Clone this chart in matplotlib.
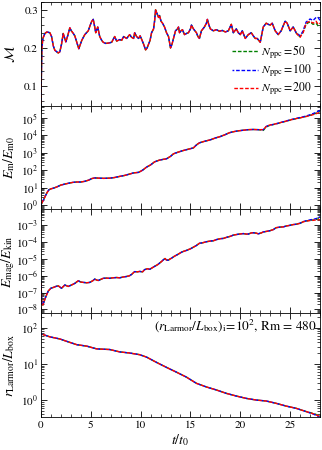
import numpy as np
import matplotlib
matplotlib.use('Agg')
import matplotlib.pyplot as plt
from matplotlib.ticker import MultipleLocator, LogLocator, NullFormatter

plt.rcParams['font.family'] = 'STIXGeneral'
plt.rcParams['mathtext.fontset'] = 'stix'
plt.rcParams['font.size'] = 8

# Mach number, common part (all three runs overlap)
t_mach = [0.0, 0.05, 0.1, 0.2, 0.4, 0.6, 0.9, 1.07, 1.25, 1.4, 1.74, 1.9, 2.07, 2.24, 2.4,
          2.5, 2.7, 2.9, 3.05, 3.2, 3.4, 3.6, 3.8, 4.1, 4.4, 4.75, 4.95, 5.1, 5.25, 5.4,
          5.5, 5.7, 5.9, 6.1, 6.25, 6.5, 6.8, 7.1, 7.4, 7.6, 7.9, 8.1, 8.3, 8.6, 8.9,
          9.1, 9.3, 9.4, 9.6, 9.8, 9.95, 10.15, 10.3, 10.5, 10.65, 10.8, 10.95, 11.1, 11.3,
          11.4, 11.5, 11.65, 11.8, 11.9, 12.05, 12.2, 12.4, 12.6, 12.8, 13.0, 13.15, 13.3,
          13.5, 13.7, 13.8, 13.9, 14.05, 14.2, 14.4, 14.6, 14.8, 15.0, 15.1, 15.3, 15.45,
          15.6, 15.75, 15.9, 16.1, 16.4, 16.6, 16.7, 16.85, 17.0, 17.3, 17.6, 17.9, 18.2,
          18.5, 18.8, 19.1, 19.3, 19.45, 19.6, 19.8, 20.0, 20.2, 20.5, 20.8, 21.1, 21.3,
          21.5, 21.7, 21.85, 22.0, 22.15, 22.3, 22.6, 22.8, 23.0, 23.2, 23.35, 23.5, 23.8,
          24.1, 24.3, 24.5, 24.7, 24.85, 25.0, 25.3, 25.45, 25.6]
mach_common = [0.05, 0.12, 0.2, 0.225, 0.238, 0.242, 0.24, 0.23, 0.205, 0.194, 0.187, 0.19,
               0.21, 0.238, 0.225, 0.216, 0.233, 0.253, 0.245, 0.24, 0.232, 0.215, 0.198,
               0.22, 0.235, 0.245, 0.26, 0.27, 0.275, 0.255, 0.24, 0.255, 0.23, 0.22, 0.215,
               0.212, 0.213, 0.215, 0.23, 0.218, 0.222, 0.22, 0.23, 0.225, 0.235, 0.228,
               0.225, 0.24, 0.23, 0.225, 0.232, 0.22, 0.21, 0.195, 0.2, 0.21, 0.22, 0.24,
               0.25, 0.27, 0.3, 0.29, 0.28, 0.285, 0.27, 0.265, 0.255, 0.24, 0.23, 0.2,
               0.21, 0.225, 0.245, 0.25, 0.255, 0.24, 0.245, 0.248, 0.235, 0.238, 0.24,
               0.25, 0.26, 0.25, 0.245, 0.24, 0.23, 0.225, 0.245, 0.255, 0.265, 0.275,
               0.26, 0.25, 0.245, 0.248, 0.244, 0.246, 0.242, 0.245, 0.262, 0.24, 0.245,
               0.25, 0.24, 0.235, 0.245, 0.225, 0.235, 0.24, 0.232, 0.225, 0.225, 0.22,
               0.215, 0.235, 0.255, 0.265, 0.262, 0.26, 0.265, 0.255, 0.245, 0.235, 0.245,
               0.258, 0.27, 0.265, 0.255, 0.245, 0.255, 0.248, 0.24]
t_mach_tail = [25.8, 26.0, 26.15, 26.3, 26.6, 26.8, 27.0, 27.3, 27.6, 27.8, 28.0]
mach50_tail = [0.233, 0.23, 0.236, 0.242, 0.262, 0.266, 0.268, 0.262, 0.265, 0.258, 0.255]
mach100_tail = [0.236, 0.232, 0.238, 0.245, 0.268, 0.272, 0.276, 0.272, 0.28, 0.28, 0.272]
mach200_tail = [0.233, 0.228, 0.235, 0.24, 0.265, 0.268, 0.27, 0.265, 0.27, 0.262, 0.265]

# magnetic energy growth E_m / E_m0
t_em = [0, 0.2, 0.4, 0.6, 0.8, 1.0, 1.3, 1.6, 2.0, 2.4, 2.8, 3.2, 3.6, 4.0, 4.4, 4.8, 5.1,
        5.4, 5.8, 6.3, 6.9, 7.4, 7.9, 8.4, 8.9, 9.3, 9.8, 10.2, 10.6, 11.0, 11.4, 11.9,
        12.3, 12.6, 13.0, 13.3, 13.8, 14.3, 14.8, 15.3, 15.6, 15.9, 16.4, 17.0, 17.5,
        18.0, 18.5, 18.9, 19.3, 19.8, 20.3, 20.8, 21.3, 21.8]
em_common = [1.0, 1.7, 2.9, 5, 7.5, 8.5, 9.5, 11, 14, 16, 18, 20, 21, 21, 23, 27, 33, 36,
             35, 34, 35, 38, 44, 50, 60, 70, 75, 100, 150, 200, 300, 380, 420, 450, 620,
             870, 1100, 1350, 1600, 1900, 2800, 3700, 4500, 5500, 7000, 8500, 11000,
             14000, 16000, 18000, 19500, 21000, 21500, 21000]
t_em_tail = [22.3, 22.6, 22.9, 23.3, 23.6, 24.1, 24.6, 25.0, 25.5, 26.0, 26.5, 27.0, 27.5, 28.0]
em50_tail = [19000, 30000, 36000, 41000, 45000, 54000, 64000, 74000, 87000, 100000,
             117000, 140000, 175000, 230000]
em100_tail = [21000, 32000, 38000, 42000, 46000, 55000, 66000, 77000, 90000, 105000,
              122000, 150000, 195000, 270000]
em200_tail = [21000, 32000, 38000, 42000, 46000, 55000, 65000, 75000, 88000, 100000,
              115000, 135000, 165000, 210000]

# E_mag / E_kin
t_ratio = [0, 0.1, 0.2, 0.4, 0.6, 0.75, 1.0, 1.24, 1.5, 1.74, 2.07, 2.4, 2.74, 3.07, 3.4,
           3.75, 4.0, 4.25, 4.6, 4.9, 5.2, 5.4, 5.6, 5.75, 6.0, 6.25, 6.6, 6.9, 7.2, 7.6,
           7.9, 8.3, 8.6, 8.9, 9.1, 9.4, 9.7, 9.9, 10.2, 10.4, 10.7, 10.9, 11.1, 11.4, 11.7,
           11.9, 12.1, 12.3, 12.45, 12.6, 12.8, 12.9, 13.1, 13.4, 13.7, 14.1, 14.3, 14.6,
           15.0, 15.3, 15.6, 15.9, 16.2, 16.6, 17.0, 17.3, 17.6, 18.0, 18.3, 18.6, 19.0,
           19.3, 19.6, 19.9, 20.3, 20.6, 20.8, 21.1, 21.3, 21.6, 21.8, 22.1, 22.3, 22.6,
           23.0, 23.3, 23.6, 24.0, 24.3, 24.6, 25.0, 25.3, 25.6]
ratio_common = [5e-7, 2e-8, 1.8e-8, 4e-8, 8e-8, 1.25e-7, 1.8e-7, 2.0e-7, 2.3e-7, 2.5e-7,
                1.8e-7, 2.8e-7, 2.3e-7, 2.8e-7, 3.5e-7, 5e-7, 4.2e-7, 4e-7, 3.8e-7, 4e-7,
                5.0e-7, 6.3e-7, 5.5e-7, 5.2e-7, 6.0e-7, 7e-7, 7.2e-7, 7e-7, 7.5e-7, 7.8e-7,
                7.5e-7, 8.5e-7, 9e-7, 1.0e-6, 1.2e-6, 1.75e-6, 1.7e-6, 1.8e-6, 1.7e-6,
                2.3e-6, 2.6e-6, 2.4e-6, 2.8e-6, 3.6e-6, 4.5e-6, 5.6e-6, 7e-6, 9e-6,
                1.05e-5, 8.5e-6, 8.5e-6, 9.5e-6, 1.1e-5, 1.45e-5, 1.8e-5, 2.5e-5, 2.8e-5,
                3.2e-5, 4.0e-5, 5.0e-5, 6.3e-5, 8.5e-5, 9.0e-5, 1.05e-4, 1.15e-4, 1.2e-4,
                1.4e-4, 1.6e-4, 1.65e-4, 1.9e-4, 2.2e-4, 2.6e-4, 2.8e-4, 3.0e-4, 3.2e-4,
                3.0e-4, 3.0e-4, 3.5e-4, 3.6e-4, 3.4e-4, 3.1e-4, 3.5e-4, 4.0e-4, 4.3e-4,
                4.8e-4, 5.5e-4, 7.2e-4, 7.8e-4, 8.0e-4, 9.0e-4, 1.0e-3, 1.1e-3, 1.15e-3]
t_ratio_tail = [26.0, 26.3, 26.6, 27.0, 27.4, 27.7, 28.0]
ratio50_tail = [1.3e-3, 1.6e-3, 1.8e-3, 2.0e-3, 2.1e-3, 2.3e-3, 2.5e-3]
ratio100_tail = [1.35e-3, 1.65e-3, 1.85e-3, 2.1e-3, 2.3e-3, 2.6e-3, 3.2e-3]
ratio200_tail = [1.3e-3, 1.6e-3, 1.75e-3, 1.9e-3, 2.0e-3, 2.1e-3, 2.15e-3]

# Larmor radius over box size
t_rl = [0, 0.9, 1.9, 2.6, 3.6, 4.6, 5.6, 6.9, 7.9, 8.9, 9.9, 10.6, 11.6, 12.6, 13.6, 14.6,
        15.6, 16.6, 17.6, 18.6, 19.6, 20.6, 21.6, 22.6, 23.6, 24.6, 25.6, 26.6]
rl_common = [68, 56, 49, 42, 34, 31, 26, 25, 21.5, 20, 18, 15.4, 11, 8, 5.9, 4.3, 2.9, 2.3,
             1.9, 1.53, 1.29, 1.11, 1.0, 0.94, 0.81, 0.68, 0.59, 0.48]
t_rl_tail = [27.4, 28.0]
rl50_tail = [0.42, 0.36]
rl100_tail = [0.40, 0.33]
rl200_tail = [0.41, 0.35]

labels = [r'$N_{\rm ppc} = 50$', r'$N_{\rm ppc} = 100$', r'$N_{\rm ppc} = 200$']
colors = ['#008000', '#0000ff', '#ff0000']
offsets = [0, 1.3, 2.6]

fig, axes = plt.subplots(4, 1, figsize=(3.22, 4.5), dpi=100, sharex=True)
fig.subplots_adjust(left=0.127, right=0.994, top=0.996, bottom=0.073, hspace=0)

panels = [
    (t_mach, mach_common, t_mach_tail, [mach50_tail, mach100_tail, mach200_tail]),
    (t_em, em_common, t_em_tail, [em50_tail, em100_tail, em200_tail]),
    (t_ratio, ratio_common, t_ratio_tail, [ratio50_tail, ratio100_tail, ratio200_tail]),
    (t_rl, rl_common, t_rl_tail, [rl50_tail, rl100_tail, rl200_tail]),
]

for ax, (t0, v0, t1, tails) in zip(axes, panels):
    for tail, c, off, lab in zip(tails, colors, offsets, labels):
        ax.plot(t0 + t1, v0 + tail, color=c, ls=(off, (2.6, 1.3)), lw=1.0, label=lab)

ylab_size = 10
ax1, ax2, ax3, ax4 = axes
ax1.set_ylim(0.049, 0.321)
ax1.yaxis.set_major_locator(MultipleLocator(0.1))
ax1.yaxis.set_minor_locator(MultipleLocator(0.02))
ax1.set_ylabel(r'$\mathcal{M}$', fontsize=ylab_size)
ax1.legend(loc='lower right', frameon=False, handlelength=2.2, handletextpad=0.2,
           labelspacing=0.15, borderaxespad=0.3, fontsize=8.5)

ax2.set_yscale('log')
ax2.set_ylim(0.56, 5e5)
ax2.set_ylabel(r'$E_{\rm m}/E_{\rm m0}$', fontsize=ylab_size)

ax3.set_yscale('log')
ax3.set_ylim(5.8e-9, 8.7e-3)
ax3.set_ylabel(r'$E_{\rm mag}/E_{\rm kin}$', fontsize=ylab_size)

ax4.set_yscale('log')
ax4.set_ylim(0.336, 251)
ax4.set_ylabel(r'$r_{\rm Larmor}/L_{\rm box}$', fontsize=ylab_size)
ax4.text(0.99, 0.965, r'$(r_{\rm Larmor}/L_{\rm box})_{\rm i}\!=\!10^2$, Rm = 480',
         transform=ax4.transAxes, ha='right', va='top', fontsize=9.5)

for ax in (ax2, ax3, ax4):
    ax.yaxis.set_major_locator(LogLocator(base=10, numticks=20))
    ax.yaxis.set_minor_locator(LogLocator(base=10, subs=np.arange(2, 10), numticks=20))
    ax.yaxis.set_minor_formatter(NullFormatter())

ax4.set_xlim(0, 28)
ax4.xaxis.set_major_locator(MultipleLocator(5))
ax4.xaxis.set_minor_locator(MultipleLocator(1))
ax4.set_xlabel(r'$t/t_0$', fontsize=ylab_size, labelpad=2)

for ax in axes:
    ax.tick_params(which='both', direction='in', top=True, right=True, labelsize=8, pad=2)
    ax.tick_params(which='major', length=4, width=0.6)
    ax.tick_params(which='minor', length=2, width=0.5)
    for s in ax.spines.values():
        s.set_linewidth(0.6)
    ax.yaxis.set_label_coords(-0.086, 0.5)

fig.savefig('out.png', dpi=100)
